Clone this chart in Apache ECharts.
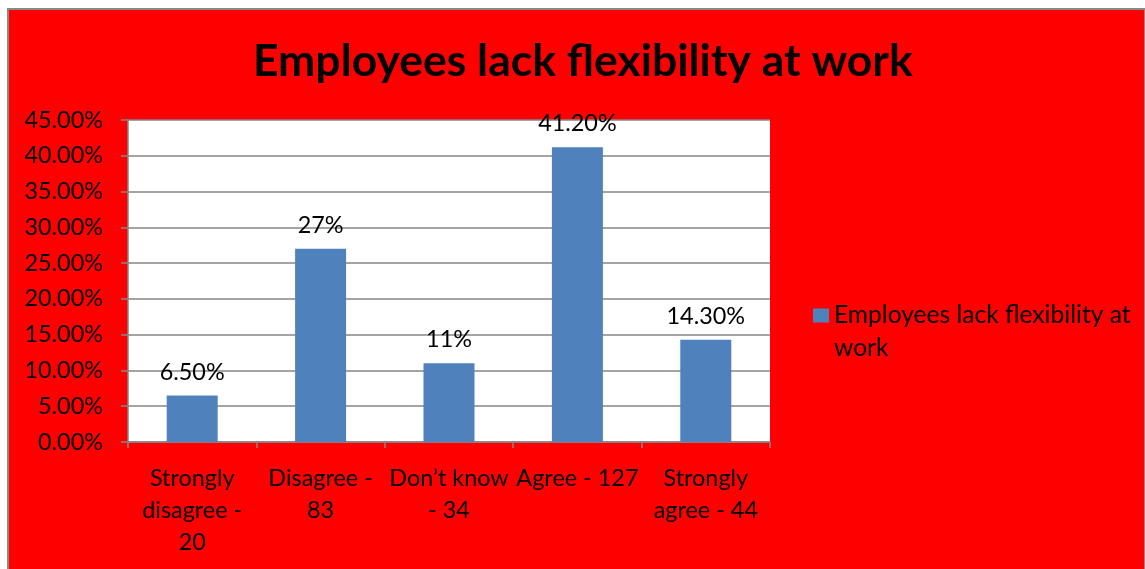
<!DOCTYPE html>
<html>
<head>
<meta charset="utf-8">
<script src="https://cdn.jsdelivr.net/npm/echarts@6/dist/echarts.min.js"></script>
<style>
  html, body { margin: 0; padding: 0; background: #ffffff; width: 1145px; height: 569px; overflow: hidden; }
  #frame { position: absolute; left: 7px; top: 8px; width: 1135px; height: 570px; background: #ff0000; border: 2px solid #8a8a8a; }
  #chart { position: absolute; left: 0; top: 0; width: 1145px; height: 569px; }
</style>
</head>
<body>
<div id="frame"></div>
<div id="chart"></div>
<script>
// Survey responses: "Employees lack flexibility at work"
const categories = [
  'Strongly\ndisagree -\n20',
  'Disagree -\n83',
  'Don\u2019t know\n- 34',
  'Agree - 127',
  'Strongly\nagree - 44'
];
const shares = [6.5, 27, 11, 41.2, 14.3];
const shareLabels = ['6.50%', '27%', '11%', '41.20%', '14.30%'];
const yTicks = ['0.00%', '5.00%', '10.00%', '15.00%', '20.00%', '25.00%', '30.00%', '35.00%', '40.00%', '45.00%'];
const seriesName = 'Employees lack flexibility at work';

const FONT = 'Lato';
const TEXT_SIZE = 23.4;
const chart = echarts.init(document.getElementById('chart'), null, { renderer: 'canvas' });

chart.setOption({
  backgroundColor: 'transparent',
  animation: false,
  title: {
    text: seriesName,
    left: 253,
    top: 39,
    padding: 0,
    textStyle: { fontFamily: FONT, fontWeight: 'bold', fontSize: 44.5, color: '#000' }
  },
  legend: {
    left: 813,
    top: 266,
    padding: 0,
    orient: 'vertical',
    icon: 'rect',
    itemWidth: 16,
    itemHeight: 14,
    data: [seriesName],
    // blank first line keeps the swatch level with the first text line
    formatter: () => '\nEmployees lack flexibility at\nwork',
    textStyle: { fontFamily: FONT, fontSize: 24.6, color: '#000', lineHeight: 33 }
  },
  grid: { left: 128, right: 375, top: 120, bottom: 127, backgroundColor: '#ffffff', show: true, borderWidth: 0 },
  xAxis: {
    type: 'category',
    data: categories,
    axisLine: { lineStyle: { color: '#868686', width: 1.5 } },
    axisTick: { show: true, length: 6, lineStyle: { color: '#868686', width: 1.5 } },
    axisLabel: { fontFamily: FONT, fontSize: TEXT_SIZE, color: '#000', lineHeight: 32, margin: 20, interval: 0 }
  },
  yAxis: {
    type: 'value',
    min: 0,
    max: 45,
    interval: 5,
    axisLine: { show: true, lineStyle: { color: '#868686', width: 1.5 } },
    axisTick: { show: true, length: 7, lineStyle: { color: '#868686', width: 1.5 } },
    splitLine: { lineStyle: { color: '#868686', width: 1.5 } },
    axisLabel: {
      fontFamily: FONT, fontSize: TEXT_SIZE, color: '#000', margin: 25,
      formatter: (v) => yTicks[Math.round(v / 5)]
    }
  },
  series: [{
    name: seriesName,
    type: 'bar',
    data: shares,
    barWidth: 51,
    itemStyle: { color: '#4f81bd' },
    label: {
      show: true,
      position: 'top',
      distance: 12,
      fontFamily: FONT,
      fontSize: TEXT_SIZE,
      color: '#000',
      formatter: (p) => shareLabels[p.dataIndex]
    }
  }]
});
</script>
</body>
</html>
